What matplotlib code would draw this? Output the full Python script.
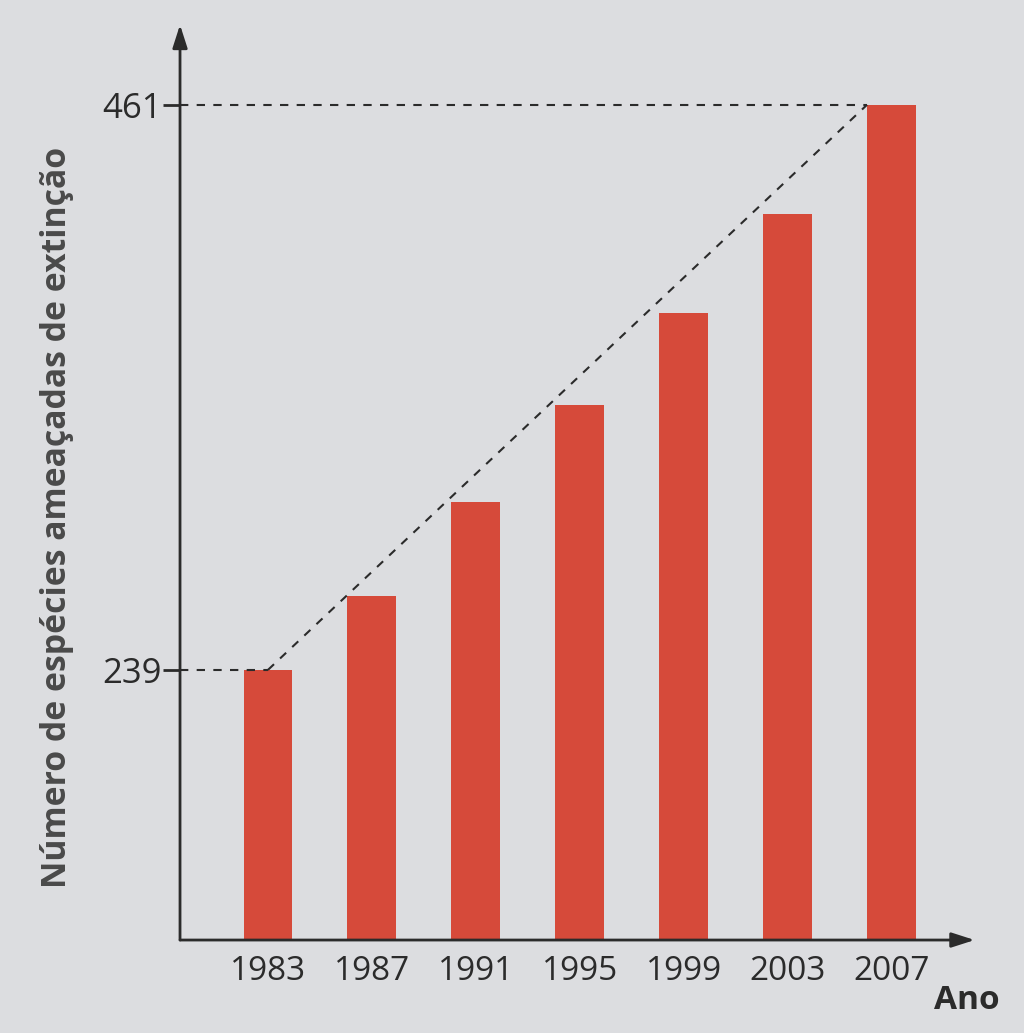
import matplotlib
matplotlib.use("Agg")
import matplotlib.pyplot as plt

years = ["1983", "1987", "1991", "1995", "1999", "2003", "2007"]
values = [239, 268, 305, 343, 379, 418, 461]
ytick_values = [239, 461]

bg = "#dcdde0"
bar_color = "#d64a3a"
ink = "#2b2b2b"

fig = plt.figure(figsize=(10.24, 10.33), dpi=100, facecolor=bg)
ax = fig.add_axes([0.1758, 0.090, 0.776, 0.886])
ax.set_facecolor(bg)

x = list(range(len(years)))
width = 0.47
ax.bar(x, values, width=width, color=bar_color, zorder=2)

ax.set_xlim(-0.846, 6.8)
ax.set_ylim(132.9, 492.4)

for s in ax.spines.values():
    s.set_visible(False)

# axes with arrows
ax.annotate("", xy=(0, 1), xytext=(0, 0), xycoords="axes fraction",
            arrowprops=dict(arrowstyle="-|>,head_length=1.4,head_width=0.45",
                            color=ink, lw=2, shrinkA=0, shrinkB=0))
ax.annotate("", xy=(1, 0), xytext=(0, 0), xycoords="axes fraction",
            arrowprops=dict(arrowstyle="-|>,head_length=1.4,head_width=0.45",
                            color=ink, lw=2, shrinkA=0, shrinkB=0))

# dashed guide lines
x0 = ax.get_xlim()[0]
ax.plot([x0, x[0]], [values[0], values[0]], ls=(0, (4, 4)), color=ink, lw=1.5, zorder=3)
ax.plot([x0, x[-1] - width / 2], [values[-1], values[-1]], ls=(0, (4, 4)), color=ink, lw=1.5, zorder=3)
ax.plot([x[0], x[-1] - width / 2], [values[0], values[-1]], ls=(0, (4, 4)), color=ink, lw=1.5, zorder=3)

ax.set_yticks(ytick_values)
ax.set_yticklabels([str(v) for v in ytick_values], fontfamily="Open Sans",
                   fontsize=25, color=ink)
ax.tick_params(axis="y", direction="out", length=12, width=2, color=ink, pad=1)

ax.set_xticks(x)
ax.set_xticklabels(years, fontfamily="Open Sans", fontsize=24, color=ink)
ax.tick_params(axis="x", length=0, pad=11)

ax.set_ylabel("Número de espécies ameaçadas de extinção", fontfamily="Open Sans",
              fontweight="bold", fontsize=24.3, color="#4a4a4a")
ax.yaxis.set_label_coords(-0.133, 0.462)

ax.text(0.99, -0.0656, "Ano", transform=ax.transAxes, fontfamily="Open Sans",
        fontweight="bold", fontsize=24, color=ink, ha="center", va="center")

fig.savefig("out.png", dpi=100, facecolor=bg)
